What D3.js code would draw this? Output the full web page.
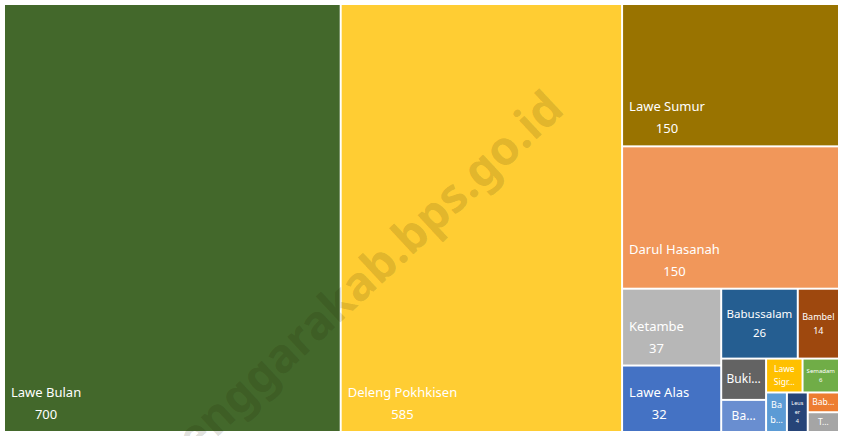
<!DOCTYPE html>
<html>
<head>
<meta charset="utf-8">
<script src="https://cdn.jsdelivr.net/npm/d3@7"></script>
<style>
  body { margin: 0; background: #fff; }
  svg { display: block; font-family: "Noto Sans", "Open Sans", sans-serif; }
</style>
</head>
<body>
<div id="chart"></div>
<script>
// kecamatan in BPS order, with values
const names = ["Lawe Alas", "Babul Rahmah", "Tanoh Alas", "Lawe Sigala-gala", "Babul Makmur",
  "Semadam", "Leuser", "Bambel", "Bukit Tusam", "Lawe Sumur", "Babussalam", "Lawe Bulan",
  "Badar", "Darul Hasanah", "Ketambe", "Deleng Pokhkisen"];
const values = [32, 3, 3, 6, 4, 6, 4, 14, 9, 150, 26, 700, 7, 150, 37, 585];
const colors = ["#4472c4", "#ed7d31", "#a5a5a5", "#ffc000", "#5b9bd5", "#70ad47", "#264478",
  "#9e480e", "#636363", "#997300", "#255e91", "#43682b", "#698ed0", "#f1975a", "#b7b7b7", "#ffcd33"];
// text actually shown in the small tiles (truncated like the original)
const shownLines = [null, ["Bab\u2026"], ["T\u2026"], ["Lawe", "Sigr\u2026"], ["Ba", "b\u2026"],
  ["Semadam", "6"], ["Leus", "er", "4"], ["Bambel", "14"], ["Buki\u2026"], null, ["Babussalam", "26"],
  null, ["Ba\u2026"], null, null, null];

const W = 841, H = 436;
const margin = { top: 5, right: 3, bottom: 5, left: 5 };

const svg = d3.select("#chart").append("svg")
    .attr("width", W)
    .attr("height", H);

const g = svg.append("g")
    .attr("transform", `translate(${margin.left},${margin.top})`);

const data = names.map((n, i) => ({ name: n, value: values[i], color: colors[i], lines: shownLines[i] }));

const root = d3.hierarchy({ children: data })
    .sum(d => d.value || 0)
    .sort((a, b) => b.value - a.value);

d3.treemap()
    .tile(d3.treemapSquarify.ratio(1))
    .size([W - margin.left - margin.right, H - margin.top - margin.bottom])
    .paddingInner(2)(root);

const cells = g.selectAll(".cell")
    .data(root.leaves())
    .enter().append("g")
    .attr("class", "cell")
    .attr("transform", d => `translate(${d.x0},${d.y0})`);

cells.append("rect")
    .attr("width", d => d.x1 - d.x0)
    .attr("height", d => d.y1 - d.y0)
    .attr("fill", d => d.data.color);

cells.each(function(d) {
    const cell = d3.select(this);
    const w = d.x1 - d.x0, h = d.y1 - d.y0;

    if (!d.data.lines) {
        // big tiles: name + value near the bottom-left
        const name = cell.append("text")
            .attr("x", 6)
            .attr("y", h - 34)
            .attr("fill", "#fff")
            .style("font-size", "13px")
            .text(d.data.name);
        const tw = name.node().getComputedTextLength();
        cell.append("text")
            .attr("x", 6 + tw / 2)
            .attr("y", h - 12)
            .attr("text-anchor", "middle")
            .attr("fill", "#fff")
            .style("font-size", "13px")
            .text(d.data.value);
        return;
    }

    // small tiles: centred lines, shrink until they fit
    const lines = d.data.lines;
    const t = cell.append("text")
        .attr("text-anchor", "middle")
        .attr("fill", "#fff");
    let fs = 12;
    while (fs > 4) {
        t.style("font-size", fs + "px").text(null);
        lines.forEach(l => t.append("tspan").text(l));
        let maxW = 0;
        t.selectAll("tspan").each(function() { maxW = Math.max(maxW, this.getComputedTextLength()); });
        if (maxW <= w - 6 && lines.length * fs * 1.6 <= h - 4) break;
        fs -= 0.5;
    }
    const lh = fs * 1.6;
    const top = h / 2 - (lines.length - 1) * lh / 2 + fs * 0.35;
    t.selectAll("tspan")
        .attr("x", w / 2)
        .attr("y", (l, i) => top + i * lh);
});

// watermark
svg.append("text")
    .attr("transform", "translate(566,112) rotate(-43)")
    .attr("text-anchor", "end")
    .attr("fill", "rgba(30,25,0,0.15)")
    .style("font-size", "47px")
    .style("font-weight", "bold")
    .text("acehtenggarakab.bps.go.id");
</script>
</body>
</html>
